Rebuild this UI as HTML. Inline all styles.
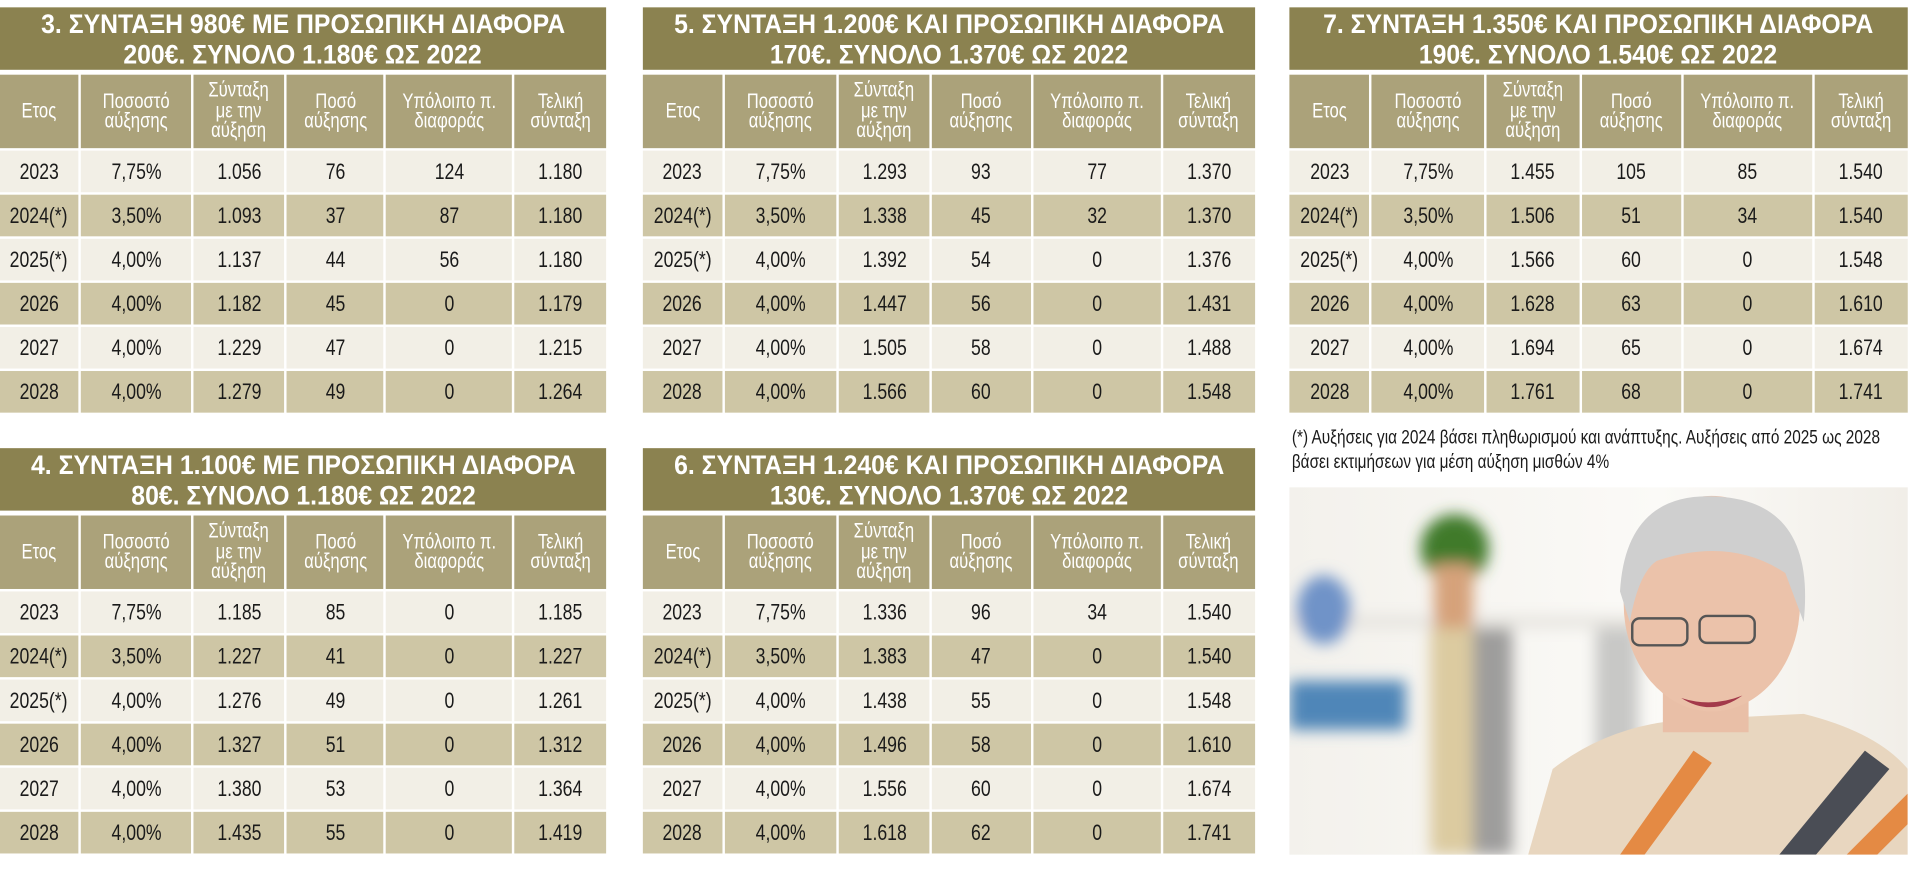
<!DOCTYPE html>
<html><head><meta charset="utf-8">
<style>
html,body{margin:0;padding:0;background:#fff;width:1920px;height:874px;overflow:hidden}
#wrap{position:absolute;left:0;top:0;width:1568px;height:714px;transform:scale(1.22449);transform-origin:0 0;font-family:"Liberation Sans","Noto Sans CJK SC",sans-serif}
.blk{position:absolute;width:495px}
.ttl{height:51px;background:#8b8250;color:#fff;font-weight:bold;font-size:22px;line-height:25px;text-align:center;padding-top:1px;box-sizing:border-box;white-space:nowrap}
.ttl span{display:inline-block;transform:scaleX(0.92)}
table{position:absolute;top:53px;left:-2px;border-collapse:separate;border-spacing:2px;width:calc(100% + 4px);table-layout:fixed}
th{background:#aba27a;color:#fff;font-weight:normal;font-size:17px;line-height:16.5px;height:60px;padding:0;white-space:nowrap}
th span,td span{display:inline-block;transform:scaleX(0.8)}
td{font-size:18px;text-align:center;height:34px;padding:0;color:#1a1a1a;white-space:nowrap}
tr.l td{background:#f2efe6}
tr.d td{background:#cec6a5}
.note{position:absolute;left:1055px;top:348px;font-size:15.5px;line-height:20px;color:#1a1a1a;white-space:nowrap;transform:scaleX(0.81);transform-origin:0 0}
.photo{position:absolute;left:1053px;top:398px;width:505px;height:300px;overflow:hidden;background:linear-gradient(90deg,#f3f1ec,#fbfaf7 60%,#f1eee8)}
</style></head><body>
<div id="wrap">
<div class="note">(*) Αυξήσεις για 2024 βάσει πληθωρισμού και ανάπτυξης. Αυξήσεις από 2025 ως 2028<br>βάσει εκτιμήσεων για μέση αύξηση μισθών 4%</div>
<div class="photo">
<svg width="505" height="300" viewBox="0 0 505 300">
<defs><filter id="b"><feGaussianBlur stdDeviation="6"/></filter></defs>
<g filter="url(#b)">
<rect x="0" y="105" width="300" height="10" fill="#e6e4df"/>
<ellipse cx="28" cy="100" rx="22" ry="28" fill="#6f93c8"/>
<rect x="0" y="158" width="95" height="40" fill="#4f86b8"/>
<circle cx="135" cy="50" r="28" fill="#3f7a2a"/>
<rect x="118" y="62" width="32" height="58" fill="#d6a27a"/>
<rect x="115" y="115" width="45" height="185" fill="#dccba0"/>
<rect x="150" y="115" width="32" height="185" fill="#9e9d9c"/>
<rect x="250" y="115" width="35" height="130" fill="#c8c8c6"/>
</g>
<path d="M195 300 L215 230 Q260 195 320 190 L420 185 Q480 200 505 230 L505 300 Z" fill="#e8d6bf"/>
<path d="M270 300 L330 215 L345 225 L290 300Z" fill="#e48a44"/>
<path d="M400 300 L470 215 L490 230 L430 300Z" fill="#4a4d55"/>
<path d="M455 300 L505 250 L505 275 L480 300Z" fill="#e48a44"/>
<rect x="305" y="110" width="70" height="90" fill="#e9bfa7"/>
<ellipse cx="345" cy="95" rx="72" ry="88" fill="#ebc2aa"/>
<path d="M270 85 Q275 0 355 8 Q430 15 420 110 L405 70 Q360 40 300 60 Q285 70 278 110Z" fill="#cfcfcf"/>
<rect x="280" y="107" width="45" height="22" rx="6" fill="none" stroke="#555" stroke-width="2"/>
<rect x="335" y="105" width="45" height="22" rx="6" fill="none" stroke="#555" stroke-width="2"/>
<path d="M320 172 Q345 188 370 170 Q345 180 320 172Z" fill="#a33a4b"/>
</svg></div>
</div>
<script>
const titles=[
["3. ΣΥΝΤΑΞΗ 980€ ΜΕ ΠΡΟΣΩΠΙΚΗ ΔΙΑΦΟΡΑ","200€. ΣΥΝΟΛΟ 1.180€ ΩΣ 2022"],
["5. ΣΥΝΤΑΞΗ 1.200€ ΚΑΙ ΠΡΟΣΩΠΙΚΗ ΔΙΑΦΟΡΑ","170€. ΣΥΝΟΛΟ 1.370€ ΩΣ 2022"],
["7. ΣΥΝΤΑΞΗ 1.350€ ΚΑΙ ΠΡΟΣΩΠΙΚΗ ΔΙΑΦΟΡΑ","190€. ΣΥΝΟΛΟ 1.540€ ΩΣ 2022"],
["4. ΣΥΝΤΑΞΗ 1.100€ ΜΕ ΠΡΟΣΩΠΙΚΗ ΔΙΑΦΟΡΑ","80€. ΣΥΝΟΛΟ 1.180€ ΩΣ 2022"],
["6. ΣΥΝΤΑΞΗ 1.240€ ΚΑΙ ΠΡΟΣΩΠΙΚΗ ΔΙΑΦΟΡΑ","130€. ΣΥΝΟΛΟ 1.370€ ΩΣ 2022"]];
const headers=["Ετος","Ποσοστό<br>αύξησης","Σύνταξη<br>με την<br>αύξηση","Ποσό<br>αύξησης","Υπόλοιπο π.<br>διαφοράς","Τελική<br>σύνταξη"];
const years=["2023","2024(*)","2025(*)","2026","2027","2028"];
const rates=["7,75%","3,50%","4,00%","4,00%","4,00%","4,00%"];
const withRaise=[["1.056","1.093","1.137","1.182","1.229","1.279"],["1.293","1.338","1.392","1.447","1.505","1.566"],["1.455","1.506","1.566","1.628","1.694","1.761"],["1.185","1.227","1.276","1.327","1.380","1.435"],["1.336","1.383","1.438","1.496","1.556","1.618"]];
const raiseAmt=[["76","37","44","45","47","49"],["93","45","54","56","58","60"],["105","51","60","63","65","68"],["85","41","49","51","53","55"],["96","47","55","58","60","62"]];
const remainder=[["124","87","56","0","0","0"],["77","32","0","0","0","0"],["85","34","0","0","0","0"],["0","0","0","0","0","0"],["34","0","0","0","0","0"]];
const finalP=[["1.180","1.180","1.180","1.179","1.215","1.264"],["1.370","1.370","1.376","1.431","1.488","1.548"],["1.540","1.540","1.548","1.610","1.674","1.741"],["1.185","1.227","1.261","1.312","1.364","1.419"],["1.540","1.540","1.548","1.610","1.674","1.741"]];
const pos=[[0,6,495],[525,6,500],[1053,6,505],[0,366,495],[525,366,500]];
const names=["table-pension-980","table-pension-1200","table-pension-1350","table-pension-1100","table-pension-1240"];
const wrap=document.getElementById('wrap');
const cw=["13.2%","18.6%","15.2%","16.4%","21.2%","15.4%"];
for(let t=0;t<5;t++){
 const b=document.createElement('div');b.className='blk';
 
 
 b.style.left=pos[t][0]+'px';b.style.top=pos[t][1]+'px';b.style.width=pos[t][2]+'px';
 let h='<div class="ttl"><span>'+titles[t][0]+'</span><br><span>'+titles[t][1]+'</span></div><table><colgroup>'+cw.map(w=>'<col style="width:'+w+'">').join('')+'</colgroup><tr>';
 headers.forEach(x=>h+='<th><span>'+x+'</span></th>');
 h+='</tr>';
 for(let r=0;r<6;r++){
  h+='<tr class="'+(r%2?'d':'l')+'">';
  [years[r],rates[r],withRaise[t][r],raiseAmt[t][r],remainder[t][r],finalP[t][r]].forEach(v=>h+='<td><span>'+v+'</span></td>');
  h+='</tr>';
 }
 h+='</table>';
 b.innerHTML=h;
 wrap.appendChild(b);
}
</script>
</body></html>
